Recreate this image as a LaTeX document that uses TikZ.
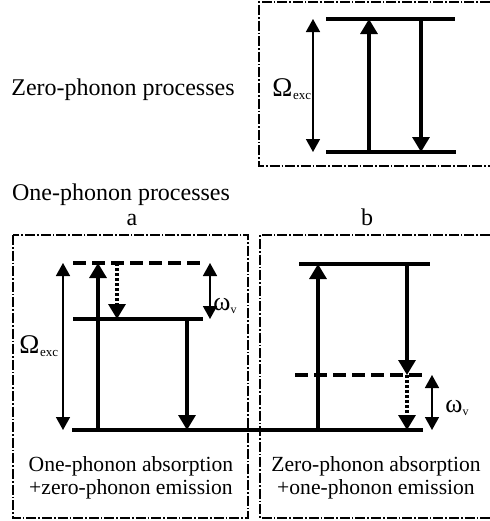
\documentclass[tikz,border=0pt]{standalone}
\usepackage{fontspec}
\setmainfont{Liberation Serif}
\usetikzlibrary{arrows.meta}
\tikzset{
  marco/.style={line width=0.8pt,dash pattern=on 5pt off 1pt on 0.8pt off 1pt},
  nivel/.style={line width=2pt},
  niveld/.style={nivel,dash pattern=on 6.5pt off 3pt},
  flecha/.style={-{Triangle[length=7.5pt,width=8.5pt]},line width=1.6pt},
  flechap/.style={flecha,dash pattern=on 1.5pt off 1pt},
  cota/.style={{Triangle[length=6.5pt,width=7pt]}-{Triangle[length=6.5pt,width=7pt]},line width=0.8pt},
  etiqueta/.style={inner sep=0pt},
  leyenda/.style={etiqueta,align=center,font=\fontsize{10.8}{11.5}\selectfont},
}
\newcommand{\Omexc}{{\fontsize{13.5}{13.5}\selectfont Ω}\kern0.3pt\raisebox{-1.8pt}{\fontsize{6.5}{7}\selectfont exc}}
\newcommand{\omv}{{\fontsize{13}{13}\selectfont ω}\raisebox{-1.5pt}{\fontsize{6}{7}\selectfont v}}

\begin{document}
\begin{tikzpicture}[x=0.5pt,y=-0.5pt,font=\fontsize{12}{13}\selectfont]
  \useasboundingbox (0,0) rectangle (490,521);
  % marcos
  \draw[marco] (490,2) -- (259,2) -- (259,166) -- (490,166);
  \draw[marco] (13,235) rectangle (248,518);
  \draw[marco] (490,235) -- (260,235) -- (260,518) -- (490,518);
  % niveles
  \coordinate (e0) at (326,19);  \coordinate (e1) at (455,19);
  \coordinate (g0) at (326,152); \coordinate (g1) at (456,152);
  \coordinate (va0) at (73,263); \coordinate (va1) at (205,263);
  \coordinate (ma0) at (73,319); \coordinate (ma1) at (203,319);
  \coordinate (f0) at (72,430);  \coordinate (f1) at (423,430);
  \coordinate (sb0) at (299,264); \coordinate (sb1) at (430,264);
  \coordinate (vb0) at (295,375); \coordinate (vb1) at (427,375);
  \foreach \a/\b in {e0/e1,g0/g1,ma0/ma1,f0/f1,sb0/sb1}
    \draw[nivel] (\a) -- (\b);
  \foreach \a/\b in {va0/va1,vb0/vb1}
    \draw[niveld] (\a) -- (\b);
  % columnas de las flechas
  \foreach \n/\x in {c1/313,c2/369,c3/421,c4/63,c5/98,c6/117,c7/187,c8/210,c9/318,c10/407,c11/432}
    \coordinate (\n) at (\x,0);
  \foreach \x/\a/\b in {c2/g0/e0,c3/e0/g0,c5/f0/va0,c7/ma0/f0,c9/f0/sb0,c10/sb0/vb0}
    \draw[flecha] (\x |- \a) -- (\x |- \b);
  \foreach \x/\a/\b in {c6/va0/ma0,c10/vb0/f0}
    \draw[flechap] (\x |- \a) -- (\x |- \b);
  \foreach \x/\a/\b in {c1/e0/g0,c4/va0/f0,c8/va0/ma0,c11/vb0/f0}
    \draw[cota] (\x |- \a) -- (\x |- \b);
  % textos
  \node[etiqueta,anchor=base] (tzero) at (123,95) {Zero-phonon processes};
  \node[etiqueta,anchor=base] (tone) at (121,200) {One-phonon processes};
  \node[etiqueta,anchor=base] (ta) at (132,225) {a};
  \node[etiqueta,anchor=base] (tb) at (367,225) {b};
  \node[etiqueta,anchor=base west] (omz) at (272,96) {\Omexc};
  \node[etiqueta,anchor=base west] (oma) at (19,353) {\Omexc};
  \node[etiqueta,anchor=base west] (wa) at (213,310) {\omv};
  \node[etiqueta,anchor=base west] (wb) at (445,412) {\omv};
  \node[leyenda] (txa) at (131,478) {One-phonon absorption\\+zero-phonon emission};
  \node[leyenda] (txb) at (376,478) {Zero-phonon absorption\\+one-phonon emission};
\end{tikzpicture}
\end{document}
